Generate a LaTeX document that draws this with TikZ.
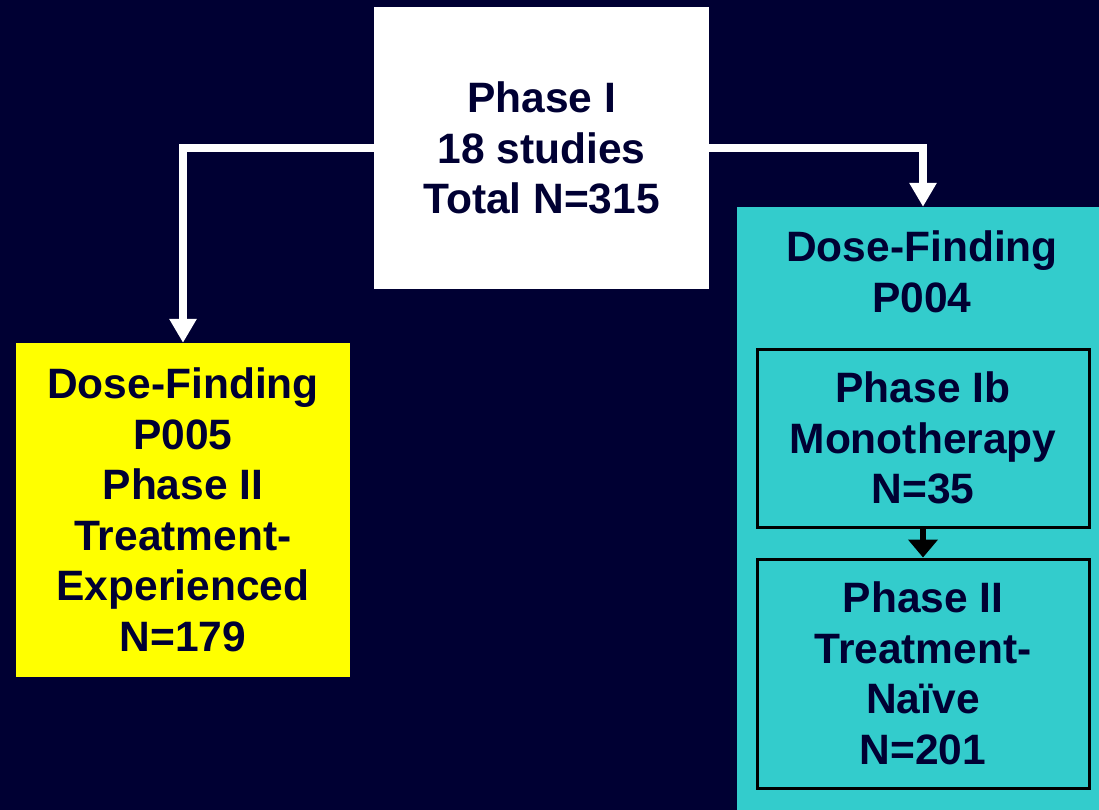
\documentclass[tikz,border=0pt]{standalone}
\usepackage{fontspec}
\setmainfont{Liberation Sans}
\usepackage{tikz}
\usetikzlibrary{arrows.meta}
\definecolor{navy}{HTML}{000033}
\definecolor{teal}{HTML}{33CCCC}
\definecolor{brightyellow}{HTML}{FFFF00}
\begin{document}
\begin{tikzpicture}[x=1pt,y=-1pt,
  every node/.style={font=\fontsize{42.5}{50.5}\selectfont\bfseries,text=navy,align=center,inner sep=0pt},
  innerbox/.style={draw=black,line width=3pt,minimum width=332pt},
  whitearrow/.style={white,line width=8pt,-{Triangle[width=26pt,length=24pt]}},
  blackarrow/.style={black,line width=5.5pt,-{Triangle[width=29pt,length=18pt]}}]
  \fill[navy] (0,0) rectangle (1099,810);
  \useasboundingbox (0,0) rectangle (1099,810);
  \node[fill=white,minimum width=335pt,minimum height=282pt] (phase1) at (541.5,148)
    {Phase I\\18 studies\\Total N=315};
  \node[fill=brightyellow,minimum width=334pt,minimum height=334pt] (p005) at (183,510)
    {Dose-Finding\\P005\\Phase II\\Treatment-\\Experienced\\N=179};
  \node[fill=teal,minimum width=362pt,minimum height=603pt] (p004) at (918,508.5) {};
  \node (title) at (922,272) {Dose-Finding\\P004};
  \node[innerbox,minimum height=178pt] (ib) at (923,438) {Phase Ib\\Monotherapy\\N=35};
  \node[innerbox,minimum height=229pt] (naive) at (923,673.5) {Phase II\\Treatment-\\Na\"ive\\N=201};
  \draw[whitearrow] (phase1.west) -| (p005.north);
  \draw[whitearrow] (phase1.east) -| (ib |- p004.north);
  \draw[blackarrow] (ib.south) -- (naive.north);
\end{tikzpicture}
\end{document}
